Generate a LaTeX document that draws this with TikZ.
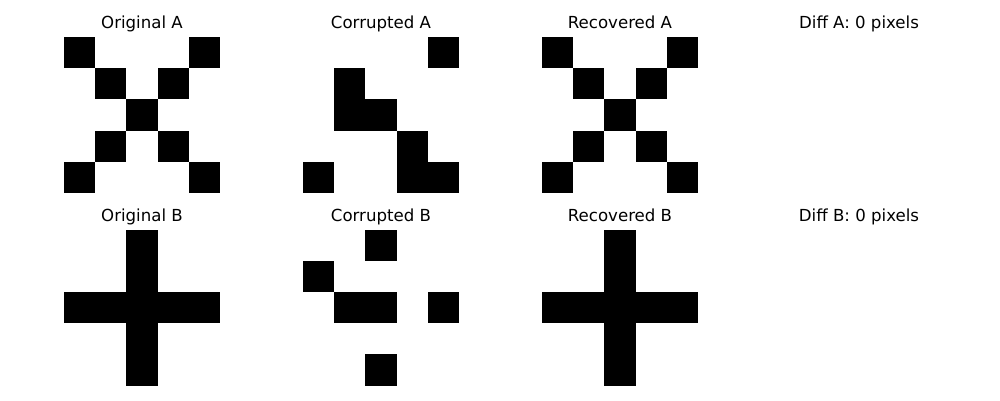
\documentclass[tikz,border=0pt]{standalone}
\usepackage{fontspec}
\setmainfont{DejaVu Sans}
\tikzset{
  cell/.style={fill=black, draw=none},
  ttl/.style={anchor=base, inner sep=0pt, font=\fontsize{16.6}{20}\selectfont}
}
\newcommand{\drawgrid}[3]{%
  \foreach \r/\c in {#3} {
    \fill[black] ({#1+\c*31.2},{#2+\r*31.2}) rectangle ++(31.2,31.2);
  }%
}
\begin{document}
\begin{tikzpicture}[x=1pt,y=-1pt]
\useasboundingbox (0,0) rectangle (1000,400);
% titles
\node[ttl] (tOA) at (142,28.7) {Original A};
\node[ttl] (tCA) at (381,28.7) {Corrupted A};
\node[ttl] (tRA) at (620,28.7) {Recovered A};
\node[ttl] (tDA) at (859,28.7) {Diff A: 0 pixels};
\node[ttl] (tOB) at (142,221.4) {Original B};
\node[ttl] (tCB) at (381,221.4) {Corrupted B};
\node[ttl] (tRB) at (620,221.4) {Recovered B};
\node[ttl] (tDB) at (859,221.4) {Diff B: 0 pixels};
% row A
\drawgrid{64}{37}{0/0,0/4,1/1,1/3,2/2,3/1,3/3,4/0,4/4}
\drawgrid{303}{37}{0/4,1/1,2/1,2/2,3/3,4/0,4/3,4/4}
\drawgrid{542}{37}{0/0,0/4,1/1,1/3,2/2,3/1,3/3,4/0,4/4}
% row B
\drawgrid{64}{229.6}{0/2,1/2,2/0,2/1,2/2,2/3,2/4,3/2,4/2}
\drawgrid{303}{229.6}{0/2,1/0,2/1,2/2,2/4,4/2}
\drawgrid{542}{229.6}{0/2,1/2,2/0,2/1,2/2,2/3,2/4,3/2,4/2}
\end{tikzpicture}
\end{document}
